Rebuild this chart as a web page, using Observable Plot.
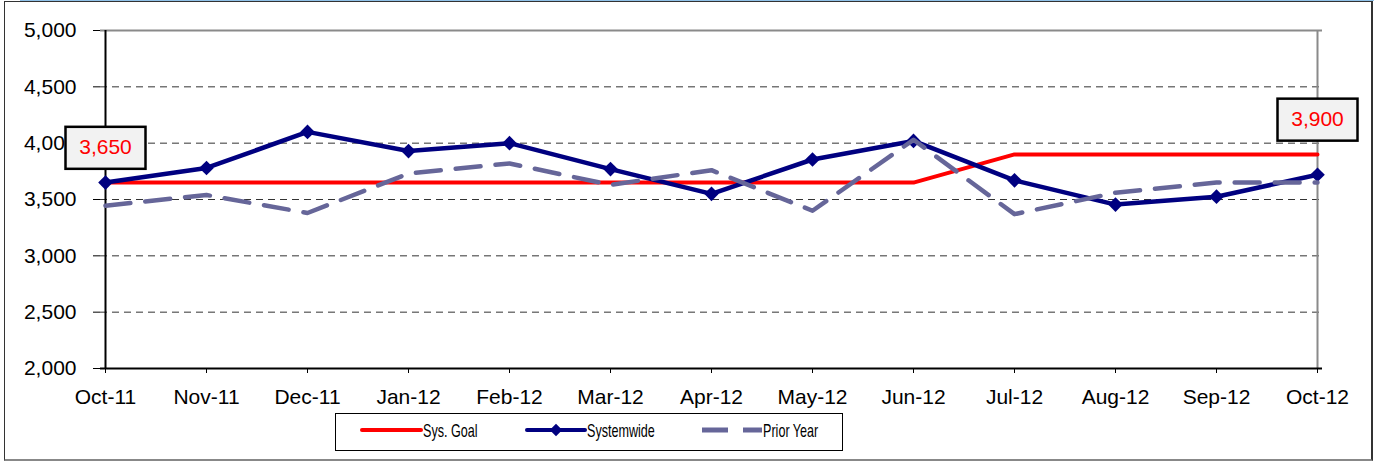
<!DOCTYPE html>
<html>
<head>
<meta charset="utf-8">
<script src="https://cdn.jsdelivr.net/npm/d3@7"></script>
<script src="https://cdn.jsdelivr.net/npm/@observablehq/plot@0.6"></script>
<style>
  html, body { margin: 0; padding: 0; background: #fff; }
  #wrap { position: relative; width: 1374px; height: 461px; overflow: hidden; font-family: "Liberation Sans", Arial, sans-serif; }
  #frame { position: absolute; left: 4px; top: 1px; width: 1366px; height: 457px; border-left: 1.5px solid #333; border-right: 2px solid #333; border-top: 1px solid #333; border-bottom: 2px solid #888; box-sizing: content-box; }
  #topline { position: absolute; left: 20px; right: 0; top: 0; height: 1px; background: #8fc1e8; }
  #chart { position: absolute; left: 0; top: 0; }
  #legend { position: absolute; left: 0; top: 0; }
</style>
</head>
<body>
<div id="wrap">
  <div id="frame"></div>
  <div id="topline"></div>
  <div id="chart"></div>
  <svg id="legend" width="1374" height="461"></svg>
</div>
<script>
// ---- data ----
const months = ["Oct-11","Nov-11","Dec-11","Jan-12","Feb-12","Mar-12","Apr-12","May-12","Jun-12","Jul-12","Aug-12","Sep-12","Oct-12"];
const sysGoal = [3650,3650,3650,3650,3650,3650,3650,3650,3650,3900,3900,3900,3900];
const systemwide = [3650,3780,4100,3930,4000,3770,3550,3855,4020,3670,3455,3525,3720];
const priorYear = [3445,3540,3380,3730,3820,3630,3760,3400,4030,3370,3560,3650,3650];
const yTicks = [2000,2500,3000,3500,4000,4500,5000];
const seriesNames = ["Sys. Goal","Systemwide","Prior Year"];
const labelMonths = ["Oct-11","Oct-12"];

const goalData = months.map((m,i) => ({month:m, value:sysGoal[i]}));
const sysData = months.map((m,i) => ({month:m, value:systemwide[i]}));
const priorData = months.map((m,i) => ({month:m, value:priorYear[i]}));
const labelData = goalData.filter(d => labelMonths.includes(d.month));
const fmt = d3.format(",");

const chart = Plot.plot({
  width: 1374,
  height: 461,
  marginLeft: 100,
  marginRight: 52,
  marginTop: 30,
  marginBottom: 93,
  style: { fontFamily: "'Liberation Sans', Arial, sans-serif", fontSize: "21px", background: "transparent", color: "#000" },
  x: { type: "point", domain: months, padding: 0, label: null },
  y: { domain: [2000, 5000], label: null },
  marks: [
    Plot.ruleY(yTicks.filter(d => d > 2000 && d < 5000), { stroke: "#333", strokeWidth: 1, strokeDasharray: "7,5" }),
    Plot.ruleY([5000], { stroke: "#8a8a8a", strokeWidth: 2 }),
    Plot.ruleX([months[months.length - 1]], { stroke: "#8a8a8a", strokeWidth: 2 }),
    Plot.axisY({ ticks: yTicks, tickFormat: d => fmt(d), tickSize: 7, tickPadding: 17, fontSize: 21, label: null }),
    Plot.axisX({ tickSize: 5, tickPadding: 16, fontSize: 21, label: null }),
    Plot.ruleX([months[0]], { stroke: "#000", strokeWidth: 2 }),
    Plot.ruleY([2000], { stroke: "#000", strokeWidth: 2 }),
    Plot.line(goalData, { x: "month", y: "value", stroke: "#ff0000", strokeWidth: 4 }),
    Plot.line(sysData, { x: "month", y: "value", stroke: "#000080", strokeWidth: 4.5 }),
    Plot.dot(sysData, { x: "month", y: "value", symbol: "diamond2", r: 6.6, fill: "#000080", stroke: "none" }),
    Plot.line(priorData, { x: "month", y: "value", stroke: "#666699", strokeWidth: 4.5, strokeDasharray: "25,15" }),
    Plot.text(labelData, { x: "month", y: "value", text: d => fmt(d.value), dy: -35, fill: "#ff0000", fontSize: 21 })
  ]
});
document.getElementById("chart").appendChild(chart);

// boxes behind the value labels
const ns = "http://www.w3.org/2000/svg";
chart.querySelectorAll('g[aria-label="text"] text').forEach(t => {
  const b = t.getBBox();
  const cx = b.x + b.width / 2, cy = b.y + b.height / 2;
  const r = document.createElementNS(ns, "rect");
  r.setAttribute("x", cx - 40);
  r.setAttribute("y", cy - 20);
  r.setAttribute("width", 80);
  r.setAttribute("height", 42);
  r.setAttribute("fill", "#f2f2f2");
  r.setAttribute("stroke", "#000");
  r.setAttribute("stroke-width", 2.5);
  if (t.getAttribute("transform")) r.setAttribute("transform", t.getAttribute("transform"));
  t.parentNode.insertBefore(r, t);
});

// legend
const lg = d3.select("#legend");
lg.append("rect").attr("x", 335.5).attr("y", 413.5).attr("width", 507).attr("height", 37)
  .attr("fill", "#fff").attr("stroke", "#000").attr("stroke-width", 1);
const ly = 430;
lg.append("line").attr("x1", 362).attr("x2", 421).attr("y1", ly).attr("y2", ly)
  .attr("stroke", "#ff0000").attr("stroke-width", 4).attr("stroke-linecap", "round");
lg.append("line").attr("x1", 527).attr("x2", 585).attr("y1", ly).attr("y2", ly)
  .attr("stroke", "#000080").attr("stroke-width", 4).attr("stroke-linecap", "round");
lg.append("path").attr("d", d3.symbol(d3.symbolDiamond2, 100)()).attr("transform", `translate(556,${ly})`).attr("fill", "#000080");
lg.append("line").attr("x1", 702).attr("x2", 762).attr("y1", ly).attr("y2", ly)
  .attr("stroke", "#666699").attr("stroke-width", 5).attr("stroke-dasharray", "26,15");
const textX = [423, 587, 763];
seriesNames.forEach((name, i) => {
  lg.append("text").attr("transform", `translate(${textX[i]},${ly + 7}) scale(0.7,1)`)
    .attr("font-family", "'Liberation Sans', Arial, sans-serif").attr("font-size", 18).attr("fill", "#000").text(name);
});
</script>
</body>
</html>
